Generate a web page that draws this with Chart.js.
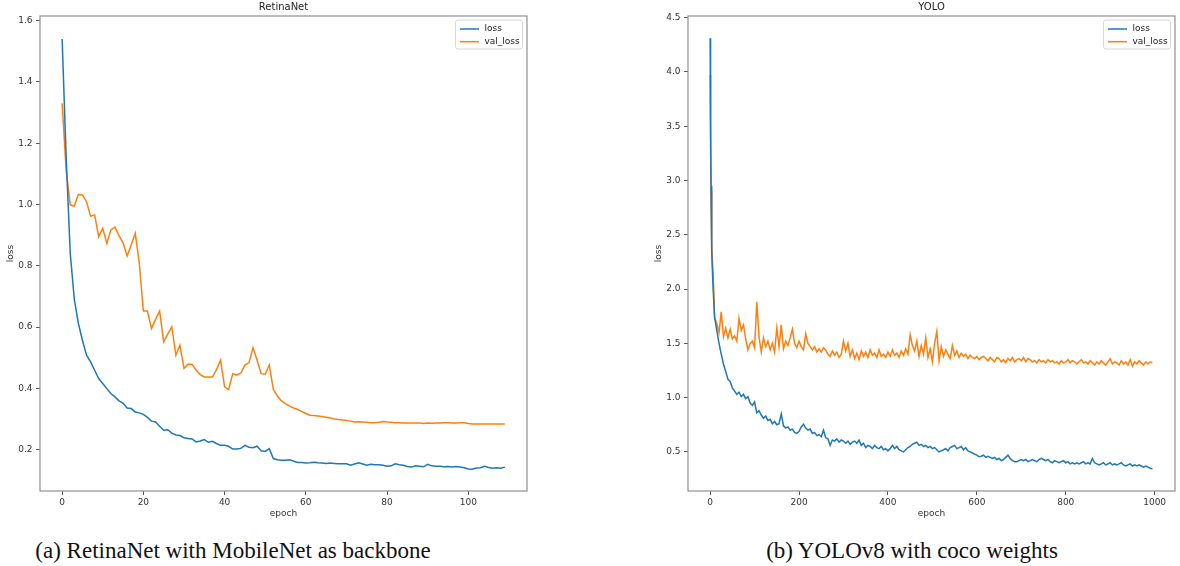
<!DOCTYPE html>
<html><head><meta charset="utf-8">
<script src="https://cdn.jsdelivr.net/npm/chart.js@4.4.1/dist/chart.umd.min.js"></script>
<style>
html,body{margin:0;padding:0;background:#fff;width:1180px;height:566px;overflow:hidden;position:relative}
canvas{position:absolute;top:0}
#c1{left:0}
#c2{left:648px}
.cap{position:absolute;top:538.5px;font-family:"Liberation Serif","Times New Roman",serif;font-size:23px;line-height:23px;white-space:nowrap;color:#111;transform:translateX(-50%)}
</style></head>
<body>
<canvas id="c1" width="540" height="520" style="width:540px;height:520px"></canvas>
<canvas id="c2" width="532" height="520" style="width:532px;height:520px"></canvas>
<div class="cap" style="left:233px">(a) RetinaNet with MobileNet as backbone</div>
<div class="cap" style="left:912px">(b) YOLOv8 with coco weights</div>
<script>
// ---------- RetinaNet ----------
const retinaEpochs = [0,1,2,3,4,5,6,7,8,9,10,11,12,13,14,15,16,17,18,19,20,21,22,23,24,25,26,27,28,29,30,31,32,33,34,35,36,37,38,39,40,41,42,43,44,45,46,47,48,49,50,51,52,53,54,55,56,57,58,59,60,61,62,63,64,65,66,67,68,69,70,71,72,73,74,75,76,77,78,79,80,81,82,83,84,85,86,87,88,89,90,91,92,93,94,95,96,97,98,99,100,101,102,103,104,105,106,107,108,109];
const retinaLoss = [
1.54,1.15,0.84,0.69,0.612,0.557,0.508,0.486,0.459,0.432,
0.416,0.399,0.383,0.372,0.359,0.352,0.336,0.334,0.323,0.320,
0.315,0.305,0.293,0.290,0.276,0.263,0.265,0.254,0.248,0.246,
0.239,0.236,0.235,0.225,0.228,0.233,0.224,0.227,0.220,0.214,
0.214,0.211,0.202,0.202,0.204,0.214,0.208,0.206,0.211,0.196,
0.194,0.203,0.171,0.167,0.165,0.165,0.167,0.162,0.158,0.158,
0.156,0.157,0.159,0.157,0.156,0.155,0.156,0.155,0.154,0.154,
0.154,0.149,0.153,0.157,0.153,0.149,0.152,0.151,0.151,0.149,
0.146,0.147,0.154,0.151,0.149,0.145,0.143,0.147,0.146,0.144,
0.152,0.147,0.146,0.146,0.144,0.145,0.143,0.145,0.143,0.141,
0.137,0.136,0.140,0.141,0.146,0.142,0.139,0.141,0.139,0.143];
const retinaVal = [
1.33,1.11,0.998,0.995,1.033,1.031,1.009,0.962,0.966,0.895,
0.922,0.873,0.917,0.926,0.898,0.875,0.832,0.868,0.906,0.808,
0.652,0.652,0.595,0.625,0.652,0.552,0.577,0.601,0.508,0.541,
0.465,0.479,0.478,0.459,0.445,0.437,0.437,0.437,0.461,0.492,
0.405,0.396,0.448,0.443,0.450,0.476,0.484,0.533,0.492,0.448,
0.446,0.476,0.396,0.375,0.359,0.350,0.342,0.336,0.331,0.325,
0.318,0.312,0.311,0.310,0.308,0.306,0.303,0.300,0.298,0.297,
0.295,0.293,0.290,0.291,0.290,0.289,0.288,0.288,0.289,0.292,
0.290,0.289,0.288,0.288,0.287,0.287,0.287,0.287,0.287,0.285,
0.287,0.286,0.287,0.287,0.288,0.288,0.287,0.287,0.288,0.288,
0.285,0.284,0.284,0.284,0.284,0.284,0.284,0.284,0.284,0.284];
const retinaXTicks = [0,20,40,60,80,100];
const retinaYTicks = [0.2,0.4,0.6,0.8,1.0,1.2,1.4,1.6];

// ---------- YOLO ----------
const yoloEpochs = [0,1,2,3,4,5,7,10,15,
20,25,30,35,40,45,50,55,60,65,70,75,80,85,90,95,100,105,110,115,120,125,130,135,140,145,150,155,160,165,170,175,180,185,190,195,200,205,210,215,220,225,230,235,240,245,250,255,260,265,270,275,280,285,290,295,300,305,310,315,320,325,330,335,340,345,350,355,360,365,370,375,380,385,390,395,400,405,410,415,420,425,430,435,440,445,450,455,460,465,470,475,480,485,490,495,500,505,510,515,520,525,530,535,540,545,550,555,560,565,570,575,580,585,590,595,600,605,610,615,620,625,630,635,640,645,650,655,660,665,670,675,680,685,690,695,700,705,710,715,720,725,730,735,740,745,750,755,760,765,770,775,780,785,790,795,800,805,810,815,820,825,830,835,840,845,850,855,860,865,870,875,880,885,890,895,900,905,910,915,920,925,930,935,940,945,950,955,960,965,970,975,980,985,990,995];
const yoloLoss = [4.31,3.55,2.95,2.60,2.35,2.18,1.98,1.74,1.62,
1.50,1.40,1.31,1.24,1.17,1.15,1.09,1.06,1.03,1.05,
1.01,1.03,0.99,1.01,0.95,0.93,0.96,0.86,0.88,0.84,
0.81,0.83,0.79,0.80,0.76,0.78,0.75,0.76,0.85,0.74,
0.72,0.73,0.70,0.71,0.68,0.67,0.69,0.73,0.755,0.72,
0.70,0.71,0.67,0.68,0.65,0.66,0.64,0.70,0.63,0.62,
0.56,0.61,0.60,0.62,0.59,0.61,0.60,0.58,0.60,0.57,
0.59,0.60,0.58,0.61,0.56,0.58,0.54,0.56,0.55,0.53,
0.56,0.54,0.53,0.55,0.52,0.53,0.51,0.53,0.56,0.53,
0.55,0.52,0.51,0.50,0.52,0.54,0.55,0.57,0.58,0.59,
0.56,0.57,0.55,0.56,0.54,0.55,0.53,0.54,0.52,0.50,
0.51,0.52,0.53,0.51,0.54,0.55,0.56,0.53,0.54,0.55,
0.52,0.54,0.51,0.50,0.49,0.48,0.47,0.455,0.46,0.47,
0.45,0.46,0.45,0.44,0.45,0.43,0.44,0.42,0.43,0.45,
0.47,0.44,0.42,0.41,0.41,0.42,0.43,0.42,0.43,0.41,
0.42,0.43,0.42,0.41,0.43,0.44,0.43,0.42,0.43,0.41,
0.40,0.42,0.41,0.40,0.41,0.42,0.40,0.41,0.39,0.40,
0.39,0.40,0.39,0.40,0.41,0.39,0.40,0.39,0.44,0.40,
0.39,0.38,0.39,0.40,0.38,0.39,0.40,0.38,0.39,0.38,
0.39,0.40,0.38,0.37,0.38,0.39,0.37,0.38,0.37,0.38,
0.37,0.36,0.37,0.36,0.35,0.345];
const yoloVal = [3.97,3.30,2.90,2.72,2.45,2.27,2.12,1.74,1.68,
1.60,1.79,1.56,1.64,1.55,1.63,1.54,1.57,1.52,1.73,
1.62,1.67,1.54,1.44,1.50,1.52,1.46,1.88,1.56,1.42,
1.55,1.47,1.52,1.44,1.50,1.42,1.64,1.47,1.67,1.45,
1.52,1.48,1.55,1.63,1.50,1.46,1.52,1.47,1.44,1.59,
1.50,1.47,1.44,1.47,1.42,1.45,1.42,1.46,1.44,1.40,
1.38,1.43,1.39,1.42,1.37,1.40,1.52,1.43,1.50,1.38,
1.44,1.36,1.41,1.35,1.43,1.38,1.42,1.37,1.44,1.39,
1.41,1.37,1.44,1.38,1.40,1.37,1.42,1.38,1.44,1.39,
1.41,1.37,1.43,1.39,1.45,1.40,1.58,1.48,1.43,1.52,
1.38,1.48,1.40,1.55,1.37,1.45,1.33,1.50,1.61,1.34,
1.47,1.38,1.44,1.40,1.36,1.48,1.39,1.43,1.37,1.41,
1.38,1.40,1.36,1.39,1.37,1.36,1.38,1.35,1.37,1.38,
1.36,1.34,1.37,1.35,1.33,1.37,1.36,1.33,1.35,1.32,
1.36,1.34,1.37,1.33,1.35,1.36,1.34,1.37,1.33,1.36,
1.35,1.33,1.34,1.32,1.35,1.33,1.34,1.32,1.35,1.33,
1.34,1.32,1.33,1.31,1.34,1.32,1.33,1.35,1.32,1.34,
1.33,1.31,1.33,1.35,1.32,1.33,1.31,1.34,1.32,1.30,
1.33,1.31,1.34,1.32,1.30,1.33,1.36,1.31,1.33,1.32,
1.30,1.34,1.31,1.33,1.30,1.35,1.29,1.33,1.31,1.34,
1.32,1.30,1.33,1.31,1.33,1.32];
const yoloXTicks = [0,200,400,600,800,1000];
const yoloYTicks = [0.5,1.0,1.5,2.0,2.5,3.0,3.5,4.0,4.5];

const seriesNames = ['loss','val_loss'];
const seriesColors = ['#1f77b4','#ff7f0e'];

const decor = {
  id: 'decor',
  afterDraw(chart, args, opts) {
    const ctx = chart.ctx, a = chart.chartArea;
    ctx.save();
    ctx.strokeStyle = '#8f8f8f'; ctx.lineWidth = 1.2;
    ctx.strokeRect(a.left, a.top, a.right - a.left, a.bottom - a.top);
    ctx.fillStyle = '#222'; ctx.textAlign = 'center'; ctx.textBaseline = 'middle';
    ctx.font = '10px "DejaVu Sans"';
    ctx.fillText(opts.title, (a.left + a.right) / 2, a.top - 8.5);
    ctx.font = '9px "DejaVu Sans"';
    ctx.fillStyle = '#333';
    ctx.fillText(opts.xLabel, (a.left + a.right) / 2, a.bottom + 23);
    ctx.save();
    ctx.translate(a.left - 29, (a.top + a.bottom) / 2);
    ctx.rotate(-Math.PI / 2);
    ctx.fillText(opts.yLabel, 0, 0);
    ctx.restore();
    // legend
    const bw = 67, bh = 29, bx = a.right - 4.5 - bw, by = a.top + 4;
    ctx.fillStyle = 'rgba(255,255,255,0.8)'; ctx.strokeStyle = '#d6d6d6'; ctx.lineWidth = 1;
    ctx.beginPath();
    if (ctx.roundRect) ctx.roundRect(bx, by, bw, bh, 2.5); else ctx.rect(bx, by, bw, bh);
    ctx.fill(); ctx.stroke();
    chart.data.datasets.forEach((ds, i) => {
      const y = by + 9 + i * 12.7;
      ctx.strokeStyle = ds.borderColor; ctx.lineWidth = 1.5;
      ctx.beginPath(); ctx.moveTo(bx + 4.5, y); ctx.lineTo(bx + 23.5, y); ctx.stroke();
      ctx.fillStyle = '#222'; ctx.textAlign = 'left'; ctx.textBaseline = 'middle';
      ctx.fillText(ds.label, bx + 29, y);
    });
    ctx.restore();
  }
};

function makeChart(id, labels, loss, val, xr, yr, xt, yt, title, padRight) {
  const tickFont = {family: 'DejaVu Sans', size: 9};
  return new Chart(document.getElementById(id), {
    type: 'line',
    data: {
      labels: labels,
      datasets: [loss, val].map((d, i) => ({
        label: seriesNames[i], data: d, borderColor: seriesColors[i], backgroundColor: seriesColors[i],
        borderWidth: 1.5, pointRadius: 0, tension: 0, fill: false
      }))
    },
    options: {
      responsive: false, animation: false, devicePixelRatio: 1,
      layout: {padding: {top: 16, right: padRight, left: 0, bottom: 0}},
      plugins: {legend: {display: false}, tooltip: {enabled: false}, title: {display: false},
        decor: {title: title, xLabel: 'epoch', yLabel: 'loss'}},
      scales: {
        x: {
          type: 'linear', min: xr[0], max: xr[1],
          afterBuildTicks: s => { s.ticks = xt.map(v => ({value: v})); },
          afterFit: s => { s.height = 29; },
          ticks: {font: tickFont, color: '#333', padding: 2, maxRotation: 0, autoSkip: false, callback: v => String(v)},
          grid: {drawOnChartArea: false, drawTicks: true, tickLength: 4, color: '#555', lineWidth: 1},
          border: {display: false}
        },
        y: {
          type: 'linear', min: yr[0], max: yr[1],
          afterBuildTicks: s => { s.ticks = yt.map(v => ({value: v})); },
          afterFit: s => { s.width = 40; },
          ticks: {font: tickFont, color: '#333', padding: 3.5, autoSkip: false, callback: v => Number(v).toFixed(1)},
          grid: {drawOnChartArea: false, drawTicks: true, tickLength: 4, color: '#555', lineWidth: 1},
          border: {display: false}
        }
      }
    },
    plugins: [decor]
  });
}

makeChart('c1', retinaEpochs, retinaLoss, retinaVal, [-5.45, 114.45], [0.065, 1.615], retinaXTicks, retinaYTicks, 'RetinaNet', 13);
makeChart('c2', yoloEpochs, yoloLoss, yoloVal, [-49.8, 1045.8], [0.14, 4.515], yoloXTicks, yoloYTicks, 'YOLO', 5);
</script>
</body></html>
